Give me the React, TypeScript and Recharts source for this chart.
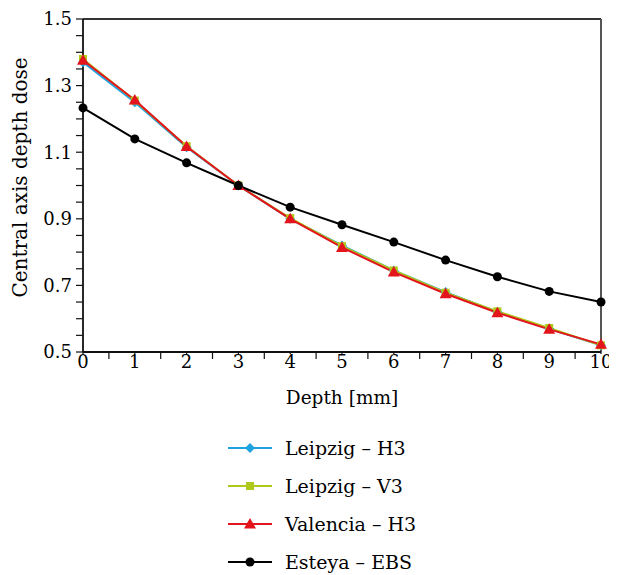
import React from 'react';
import { LineChart, Line, XAxis, YAxis, ReferenceLine } from 'recharts';

const depths = [0, 1, 2, 3, 4, 5, 6, 7, 8, 9, 10];
const leipzigH3 = [1.37, 1.25, 1.115, 1.0, 0.9, 0.82, 0.745, 0.68, 0.62, 0.57, 0.52];
const leipzigV3 = [1.38, 1.255, 1.118, 1.0, 0.902, 0.818, 0.745, 0.678, 0.622, 0.572, 0.52];
const valenciaH3 = [1.376, 1.257, 1.117, 1.0, 0.9, 0.814, 0.74, 0.675, 0.618, 0.568, 0.523];
const esteyaEBS = [1.233, 1.14, 1.068, 1.0, 0.935, 0.882, 0.83, 0.776, 0.726, 0.682, 0.65];

const xTicks = [0, 0.5, 1, 1.5, 2, 2.5, 3, 3.5, 4, 4.5, 5, 5.5, 6, 6.5, 7, 7.5, 8, 8.5, 9, 9.5, 10];
const xLabelTicks = [0, 1, 2, 3, 4, 5, 6, 7, 8, 9, 10];
const yTicks = [0.5, 0.55, 0.6, 0.65, 0.7, 0.75, 0.8, 0.85, 0.9, 0.95, 1.0, 1.05, 1.1, 1.15, 1.2, 1.25, 1.3, 1.35, 1.4, 1.45, 1.5];
const yLabelTicks = [0.5, 0.7, 0.9, 1.1, 1.3, 1.5];

const seriesNames = ['Leipzig – H3', 'Leipzig – V3', 'Valencia – H3', 'Esteya – EBS'];
const seriesKeys = ['lh3', 'lv3', 'vh3', 'ebs'];
const seriesColors = ['#1fa3e0', '#b0c81a', '#e3141c', '#000000'];
const seriesShapes = ['diamond', 'square', 'triangle', 'circle'];

const data = depths.map((d, i) => ({
  depth: d,
  lh3: leipzigH3[i],
  lv3: leipzigV3[i],
  vh3: valenciaH3[i],
  ebs: esteyaEBS[i],
}));

const FONT = "'DejaVu Serif', serif";

function Marker({ shape, cx, cy, color }: { shape: string; cx: number; cy: number; color: string }) {
  if (shape === 'diamond') {
    const r = 5;
    return <path d={`M${cx},${cy - r}L${cx + r},${cy}L${cx},${cy + r}L${cx - r},${cy}Z`} fill={color} />;
  }
  if (shape === 'square') {
    const r = 4;
    return <rect x={cx - r} y={cy - r} width={2 * r} height={2 * r} fill={color} />;
  }
  if (shape === 'triangle') {
    const r = 6;
    return <path d={`M${cx},${cy - r}L${cx + r},${cy + r * 0.75}L${cx - r},${cy + r * 0.75}Z`} fill={color} />;
  }
  return <circle cx={cx} cy={cy} r={4.5} fill={color} />;
}

const makeDot = (shape: string, color: string) => (props: any) => {
  const { cx, cy, index } = props;
  if (cx == null || cy == null) return <g key={`e-${shape}-${index}`} />;
  return (
    <g key={`${shape}-${index}`}>
      <Marker shape={shape} cx={cx} cy={cy} color={color} />
    </g>
  );
};

// x tick: props.y = axisY + tickSize(0) + tickMargin(0) => axis line y
const XTick = (props: any) => {
  const { x, y, payload } = props;
  const v = payload.value;
  const major = xLabelTicks.includes(v);
  if (!major) {
    return <line x1={x} x2={x} y1={y} y2={y + 7} stroke="#111" strokeWidth={1.2} />;
  }
  return (
    <g>
      <line x1={x} x2={x} y1={y} y2={y + 2} stroke="#111" strokeWidth={1.2} />
      <text x={x} y={y + 3} dy="0.71em" textAnchor="middle" fontFamily={FONT} fontSize={18} fill="#000">
        {String(v)}
      </text>
    </g>
  );
};

const YTick = (props: any) => {
  const { x, y, payload } = props;
  const v = payload.value;
  if (!yLabelTicks.some((t) => Math.abs(t - v) < 1e-6)) return <g />;
  return (
    <text x={x} y={y} dy="0.355em" textAnchor="end" fontFamily={FONT} fontSize={18} fill="#000">
      {v.toFixed(1)}
    </text>
  );
};

const YLabel = () => (
  <text
    x={18.5}
    y={169.5}
    textAnchor="middle"
    transform="rotate(-90, 18.5, 169.5)"
    fontFamily={FONT}
    fontSize={20}
    fill="#000"
  >
    Central axis depth dose
  </text>
);

const XLabel = () => (
  <text x={334} y={396} textAnchor="middle" fontFamily={FONT} fontSize={18.5} fill="#000">
    Depth [mm]
  </text>
);

const legendY = [440, 478, 516, 554];

export default function App() {
  return (
    <div style={{ position: 'relative', width: 609, height: 567 }}>
      <LineChart
        width={609}
        height={567}
        data={data}
        margin={{ top: 11, right: 16, left: 0, bottom: 163 }}
        style={{ overflow: 'visible' }}
      >
        <XAxis
          dataKey="depth"
          type="number"
          domain={[0, 10]}
          ticks={xTicks}
          interval={0}
          height={60}
          tickSize={0}
          tickMargin={0}
          tick={<XTick />}
          axisLine={{ stroke: '#111', strokeWidth: 1.8 }}
          tickLine={false}
          label={XLabel}
        />
        <YAxis
          type="number"
          domain={[0.5, 1.5]}
          ticks={yTicks}
          interval={0}
          width={75}
          tickSize={7}
          tickMargin={4}
          tick={<YTick />}
          axisLine={{ stroke: '#111', strokeWidth: 1.8 }}
          tickLine={{ stroke: '#111', strokeWidth: 1.2 }}
          label={YLabel}
          allowDataOverflow
        />
        <ReferenceLine y={1.5} stroke="#333" strokeWidth={1.8} />
        <ReferenceLine x={10} stroke="#555" strokeWidth={2} />
        {seriesKeys.map((k, i) => (
          <Line
            key={k}
            dataKey={k}
            type="linear"
            stroke={seriesColors[i]}
            strokeWidth={2}
            dot={makeDot(seriesShapes[i], seriesColors[i])}
            activeDot={false}
            isAnimationActive={false}
          />
        ))}
      </LineChart>
      <svg
        width={609}
        height={567}
        style={{ position: 'absolute', left: 0, top: 0, pointerEvents: 'none' }}
      >
        {seriesNames.map((name, i) => (
          <g key={name}>
            <line x1={220} x2={264} y1={legendY[i]} y2={legendY[i]} stroke={seriesColors[i]} strokeWidth={2} />
            <Marker shape={seriesShapes[i]} cx={242} cy={legendY[i]} color={seriesColors[i]} />
            <text x={277} y={legendY[i]} dy="0.35em" fontFamily={FONT} fontSize={19} fill="#000">
              {name}
            </text>
          </g>
        ))}
      </svg>
    </div>
  );
}
